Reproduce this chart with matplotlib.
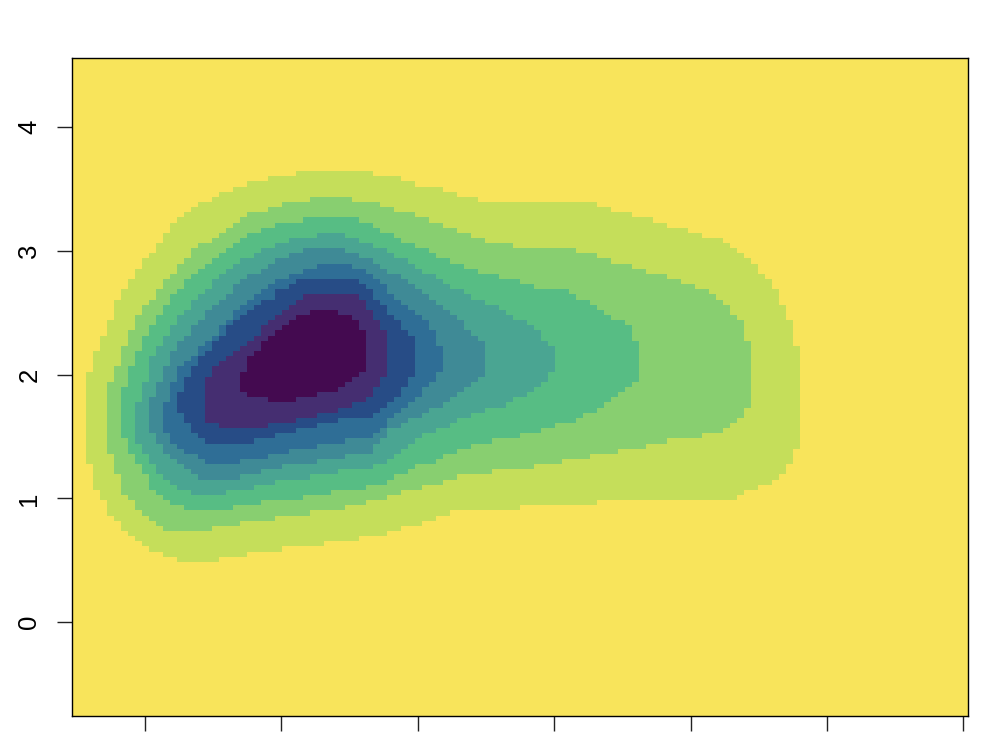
import numpy as np
from matplotlib import pyplot as plt
from matplotlib.colors import ListedColormap

plt.rcParams['font.family'] = ['Liberation Sans', 'DejaVu Sans']

# band colours, outside of the blob first
band_colors = ['#F8E45B', '#C5DE5A', '#88CF70', '#57BD84', '#4AA592',
               '#3F8A96', '#2F6E96', '#274C86', '#452E71', '#440A50']

y_ticks = [0, 1, 2, 3, 4]
x_ticks = [0, 1, 2, 3, 4, 5, 6]

# first row of each band, rows counted from the top, 128 rows by 128 columns
band_first_row = [22, 27, 31, 34, 37, 40, 43, 46, 49]

band1_left = [32, 28, 25, 23, 21, 20, 18, 17, 16, 15, 14, 14, 13, 13, 12, 12, 11, 10, 10, 9,
              9, 8, 8, 7, 7, 6, 6, 6, 6, 5, 5, 5, 4, 4, 4, 3, 3, 3, 3, 2,
              2, 2, 2, 2, 2, 2, 2, 2, 2, 2, 2, 2, 2, 2, 2, 2,
              2, 3, 3, 3, 3, 3, 4, 4, 5, 5, 5, 6, 7, 7, 8, 9, 10, 11, 13, 15]
band1_right = [43, 47, 49, 53, 55, 58, 75, 77, 80, 83, 85, 88, 90, 93, 94, 95, 96, 97, 98, 98,
               99, 100, 100, 101, 101, 101, 102, 102, 102, 103, 103, 103, 103, 103,
               104, 104, 104, 104, 104, 104, 104, 104, 104, 104, 104, 104, 104, 104, 104, 104, 104, 104, 104, 104,
               103, 103, 103, 102, 102, 101, 100, 98, 96, 95, 75, 64, 54, 52, 50, 47, 45, 41, 36, 30, 25, 21]
band2_left = [34, 30, 28, 25, 24, 23, 22, 21, 20, 18, 17, 17, 16, 15, 15, 14, 13, 13, 12, 12, 11, 10, 10,
              9, 9, 9, 8, 8, 8, 7, 7, 7, 7, 6, 6, 6, 5,
              5, 5, 5, 5, 5, 5, 5, 5, 5, 5, 5, 5, 5,
              6, 6, 6, 6, 7, 7, 7, 7, 8, 9, 9, 10, 11, 12, 13]
band2_right = [40, 44, 46, 49, 51, 53, 55, 57, 59, 63, 72, 75, 77, 80, 82, 85, 87, 89, 91, 92, 93, 94, 94,
               95, 96, 96, 96, 96, 97, 97, 97, 97, 97, 97, 97, 97, 97, 97, 97, 97, 97,
               96, 96, 95, 94, 93, 90, 85, 82, 78, 74, 70, 66, 60, 55, 53, 50, 47, 45, 42, 39, 34, 29, 24, 20]
band3_left = [33, 29, 27, 25, 24, 23, 22, 21, 20, 19, 18, 17, 16, 16, 15, 14, 14, 13, 13, 12,
              12, 11, 11, 10, 10, 10, 9, 9, 9, 8, 8, 8, 8, 7, 7, 7, 7, 7, 7, 7, 7, 7,
              7, 8, 8, 8, 9, 9, 10, 10, 11, 11, 11, 12, 13, 14, 16]
band3_right = [41, 43, 44, 46, 47, 49, 51, 52, 54, 56, 58, 61, 64, 66, 71, 72, 74, 75, 76, 77,
               79, 80, 80, 80, 81, 81, 81, 81, 81, 81, 81, 81,
               80, 79, 78, 77, 76, 75, 73, 72, 69, 67, 64, 60, 57, 55, 53, 52, 49, 48, 46, 45, 42, 37, 33, 27, 23]
band4_left = [35, 31, 29, 27, 26, 24, 23, 22, 21, 20, 20, 19, 18, 17, 17, 16, 15, 15, 14, 14,
              13, 13, 12, 12, 11, 11, 11, 11, 11, 10, 10, 10, 10, 9, 9, 9, 9, 9, 9, 9,
              9, 10, 10, 11, 11, 12, 12, 13, 14, 15, 17]
band4_right = [39, 41, 43, 45, 46, 48, 49, 50, 52, 53, 54, 56, 57, 59, 61, 62, 63, 65, 66, 67,
               67, 68, 69, 69, 69, 69, 69, 68, 68, 67, 66, 65, 63, 62, 59, 57, 55, 54, 52, 50,
               49, 48, 47, 46, 45, 43, 38, 34, 29, 26, 22]
band5_left = [33, 31, 29, 28, 27, 25, 24, 23, 23, 22, 21, 20, 19, 19, 18, 17, 17, 16, 15, 15,
              14, 14, 14, 13, 13, 13, 12, 12, 12, 11, 11, 11, 11, 11, 11, 11, 12, 12, 13, 13,
              14, 15, 16, 17, 18]
band5_right = [39, 41, 43, 44, 45, 47, 48, 49, 50, 51, 52, 53, 54, 55, 56, 56, 57, 58, 59, 59,
               59, 59, 59, 59, 59, 58, 57, 56, 55, 54, 53, 51, 50, 48, 47, 45, 45, 44, 43, 43,
               39, 35, 30, 27, 24]
band6_left = [35, 33, 31, 29, 28, 27, 26, 25, 24, 23, 23, 22, 21, 21, 20, 19, 18, 18, 17, 16,
              15, 15, 15, 14, 14, 14, 14, 13, 13, 13, 13, 13, 13, 14, 14, 15, 16, 18, 19]
band6_right = [40, 42, 43, 44, 45, 45, 46, 47, 48, 49, 50, 51, 51, 52, 52, 52, 53, 53, 53, 53,
               53, 52, 52, 51, 50, 50, 49, 48, 47, 46, 45, 45, 44, 43, 39, 35, 31, 28, 24]
band7_left = [32, 31, 29, 29, 27, 26, 25, 24, 23, 22, 22, 21, 20, 20, 19, 18, 18, 17, 17, 16,
              16, 16, 15, 15, 15, 15, 16, 16, 17, 17, 18, 19]
band7_right = [41, 42, 43, 43, 44, 45, 45, 46, 47, 47, 48, 49, 49, 49, 49, 49, 49, 49, 49, 48,
               48, 47, 47, 46, 45, 44, 43, 38, 35, 32, 29, 26]
band8_left = [33, 32, 31, 30, 29, 28, 27, 27, 26, 25, 24, 23, 22, 21, 20, 20, 19, 19, 19, 19,
              19, 19, 19, 19, 19, 21]
band8_right = [41, 42, 42, 43, 43, 44, 44, 45, 45, 45, 45, 45, 45, 45, 45, 45, 44, 44, 43, 43,
               42, 40, 38, 35, 32, 28]
band9_left = [34, 32, 31, 30, 29, 28, 27, 27, 26, 25, 25, 25, 24, 24, 24, 24, 25, 28]
band9_right = [38, 40, 41, 41, 42, 42, 42, 42, 42, 42, 42, 42, 41, 40, 39, 38, 35, 32]

lefts = [band1_left, band2_left, band3_left, band4_left, band5_left,
         band6_left, band7_left, band8_left, band9_left]
rights = [band1_right, band2_right, band3_right, band4_right, band5_right,
          band6_right, band7_right, band8_right, band9_right]

grid = np.zeros((128, 128), dtype=int)
for k in range(9):
    assert len(lefts[k]) == len(rights[k]), k
    for n in range(len(lefts[k])):
        grid[band_first_row[k] + n, lefts[k][n]:rights[k][n]] = k + 1

fig = plt.figure(figsize=(10, 7.5), dpi=100)
ax = fig.add_axes([0.072, 34 / 750, 0.896, 658 / 750])

x_min, x_max = -0.535, 6.034
y_min, y_max = -0.76, 4.56
x_edges = np.linspace(x_min, x_max, 129)
y_edges = np.linspace(y_max, y_min, 129)
ax.pcolormesh(x_edges, y_edges, grid, cmap=ListedColormap(band_colors),
              vmin=-0.5, vmax=9.5, antialiased=False, linewidth=0)

ax.set_xlim(x_min, x_max)
ax.set_ylim(y_min, y_max)
ax.set_xticks(x_ticks)
ax.set_xticklabels([])
ax.set_yticks(y_ticks)
ax.set_yticklabels([str(v) for v in y_ticks], rotation=90, va='center', fontsize=18.5)
ax.tick_params(axis='both', length=11, width=1, color='#222222', pad=11)
for s in ax.spines.values():
    s.set_linewidth(1)
    s.set_color('#000000')

fig.savefig('out.png', dpi=100)
